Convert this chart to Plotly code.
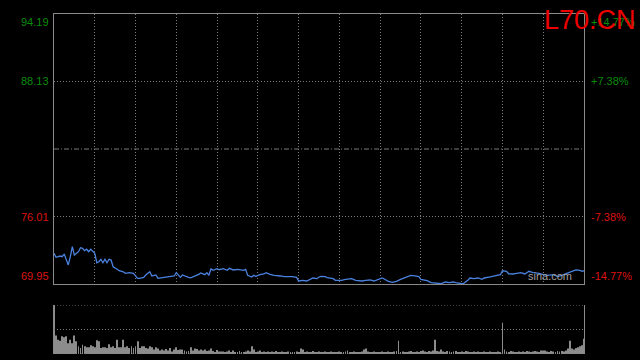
import plotly.graph_objects as go

# ---------------- data ----------------
symbol = "L70.CN"
prev_close = 82.07
left_ticks = [94.19, 88.13, 76.01, 69.95]
right_labels = ["+14.77%", "+7.38%", "-7.38%", "-14.77%"]

minute_idx = [0, 1, 3, 4, 5, 6, 7, 8, 9, 10, 11, 12, 13, 14, 15, 16, 17, 18, 20, 21,
              22, 23, 24, 25, 26, 27, 28, 29, 31, 32, 34, 35, 37, 39, 41, 42, 44, 45, 47, 48,
              50, 51, 54, 56, 59, 60, 62, 63, 64, 66, 67, 69, 71, 72, 74, 75, 76, 77, 78, 80,
              81, 83, 85, 86, 88, 90, 93, 94, 95, 97, 98, 99, 101, 103, 104, 106, 108, 111, 113, 117,
              119, 120, 122, 124, 126, 127, 129, 130, 131, 133, 134, 137, 138, 141, 143, 146, 148, 151, 153, 155,
              157, 160, 161, 162, 164, 166, 168, 170, 172, 174, 175, 177, 179, 180, 183, 185, 188, 190, 192, 194,
              196, 197, 200, 201, 203, 204, 206, 208, 210, 211, 214, 216, 218, 219, 220, 222, 223, 225, 227, 229,
              231, 233, 235, 238, 240, 242, 245, 247, 249, 251, 253, 254, 256, 258, 259, 260]
price = [72.71, 72.35, 72.46, 72.40, 72.64, 72.10, 71.66, 72.40, 73.30, 72.55, 72.71, 72.85, 73.21, 73.16, 72.94, 73.07, 72.85, 73.07, 72.71, 71.86,
         71.95, 72.17, 71.86, 72.17, 71.86, 72.17, 72.10, 71.50, 71.27, 71.14, 71.05, 70.91, 70.97, 70.91, 70.46, 70.46, 70.55, 70.76, 71.05, 70.67,
         70.76, 70.46, 70.55, 70.61, 70.67, 70.97, 70.55, 70.76, 70.67, 70.55, 70.50, 70.64, 70.82, 70.94, 70.79, 70.97, 70.73, 71.32, 71.18, 71.32,
         71.23, 71.32, 71.18, 71.36, 71.21, 71.27, 71.18, 71.27, 70.73, 70.58, 70.73, 70.64, 70.79, 70.85, 70.97, 70.82, 70.73, 70.67, 70.61, 70.61,
         70.55, 70.22, 70.28, 70.22, 70.37, 70.49, 70.43, 70.58, 70.64, 70.61, 70.52, 70.43, 70.28, 70.28, 70.37, 70.43, 70.28, 70.22, 70.28, 70.31,
         70.22, 70.37, 70.49, 70.40, 70.19, 70.10, 70.19, 70.37, 70.49, 70.67, 70.73, 70.67, 70.61, 70.37, 70.25, 70.07, 69.98, 69.98, 70.13, 70.07,
         70.13, 70.07, 69.98, 70.01, 70.28, 70.49, 70.43, 70.49, 70.37, 70.49, 70.58, 70.67, 70.73, 70.79, 71.14, 71.09, 70.87, 70.85, 70.91, 70.97,
         70.85, 71.09, 70.97, 70.91, 70.79, 70.73, 70.79, 70.61, 70.73, 70.87, 70.97, 71.03, 71.21, 71.18, 71.09, 71.14]

volume = [1000, 380, 290, 270, 360, 340, 360, 220, 290, 220,
          380, 260, 160, 120, 190, 160, 140, 140, 180, 160,
          140, 280, 260, 120, 140, 140, 120, 200, 140, 160,
          120, 290, 140, 140, 290, 140, 160, 120, 160, 120,
          160, 260, 120, 160, 160, 120, 110, 160, 140, 90,
          140, 110, 70, 90, 70, 100, 70, 120, 50, 90,
          140, 80, 90, 90, 70, 50, 60, 140, 70, 110,
          100, 70, 90, 70, 90, 60, 70, 110, 60, 40,
          80, 50, 50, 50, 40, 50, 70, 40, 70, 40,
          40, 60, 40, 40, 50, 70, 50, 160, 90, 40,
          50, 70, 40, 50, 40, 50, 30, 50, 40, 60,
          30, 40, 50, 30, 40, 50, 30, 40, 30, 50,
          40, 110, 90, 40, 50, 30, 40, 60, 30, 40,
          50, 40, 30, 50, 40, 30, 50, 40, 30, 40,
          50, 30, 40, 50, 70, 40, 30, 50, 40, 30,
          40, 50, 90, 110, 50, 40, 30, 50, 40, 30,
          40, 50, 30, 40, 50, 40, 30, 50, 60, 270,
          40, 50, 30, 40, 50, 60, 40, 30, 50, 40,
          60, 70, 50, 40, 60, 50, 70, 290, 60, 50,
          90, 50, 40, 60, 50, 40, 50, 60, 40, 30,
          50, 40, 60, 50, 40, 30, 50, 40, 50, 40,
          30, 50, 40, 30, 50, 40, 30, 40, 50, 40,
          640, 90, 50, 40, 60, 50, 40, 30, 50, 40,
          50, 40, 60, 50, 40, 50, 60, 50, 40, 70,
          70, 70, 50, 40, 60, 50, 40, 60, 50, 60,
          50, 70, 110, 270, 110, 90, 120, 140, 160, 180,
          310]
volume_idx = list(range(len(volume)))

# ---------------- style ----------------
GREEN = "#0a8c0a"
RED = "#dd1111"
GRID = "#7a7a7a"
BORDER = "#8a8a8a"
DOT = "1px,2px"
FONT = "Liberation Sans, Arial, sans-serif"
n_minutes = 260
vmax = max(volume)

fig = go.Figure()
fig.add_trace(go.Scatter(x=minute_idx, y=price, mode="lines",
                         line=dict(color="#4a82e0", width=1.3),
                         xaxis="x", yaxis="y", hoverinfo="skip"))
fig.add_trace(go.Bar(x=volume_idx, y=volume, width=0.45,
                     marker=dict(color="#8c8c8c", line=dict(width=0)),
                     xaxis="x2", yaxis="y2", hoverinfo="skip"))

x_dom = [54 / 640, 584 / 640]
fig.update_layout(
    width=640, height=360,
    margin=dict(l=0, r=0, t=0, b=0),
    paper_bgcolor="black", plot_bgcolor="black",
    showlegend=False,
    xaxis=dict(domain=x_dom, range=[0, n_minutes], tick0=0, dtick=20,
               showgrid=True, gridcolor=GRID, griddash=DOT, gridwidth=1,
               showticklabels=False, ticks="", zeroline=False,
               showline=True, mirror=True, linecolor=BORDER, linewidth=1),
    yaxis=dict(domain=[1 - 284 / 360, 1 - 14 / 360], range=[left_ticks[-1], left_ticks[0]],
               tickvals=[left_ticks[1], left_ticks[2]],
               showgrid=True, gridcolor=GRID, griddash=DOT, gridwidth=1,
               showticklabels=False, ticks="", zeroline=False,
               showline=True, mirror=True, linecolor=BORDER, linewidth=1),
    xaxis2=dict(domain=x_dom, range=[0, n_minutes], anchor="y2",
                showgrid=False, showticklabels=False, ticks="", zeroline=False,
                showline=False),
    yaxis2=dict(domain=[1 - 354 / 360, 1 - 305 / 360], range=[0, vmax], anchor="x2",
                showgrid=False, showticklabels=False, ticks="", zeroline=False,
                showline=True, mirror=True, linecolor=BORDER, linewidth=1),
)

shapes = [dict(type="line", xref="x domain", yref="y", x0=0, x1=1,
               y0=prev_close, y1=prev_close,
               line=dict(color=GRID, width=1, dash="5px,2px,1px,2px"))]
for frac in (0, 0.5, 1):
    shapes.append(dict(type="line", xref="x2 domain", yref="y2", x0=0, x1=1,
                       y0=vmax * frac, y1=vmax * frac,
                       line=dict(color=GRID, width=1, dash=DOT)))
fig.update_layout(shapes=shapes)

annotations = []
anchors = ["top", "middle", "middle", "bottom"]
for k, (val, pct) in enumerate(zip(left_ticks, right_labels)):
    col = GREEN if val > prev_close else RED
    annotations.append(dict(x=51 / 640, xref="paper", y=val, yref="y", text=f"{val:.2f}",
                            showarrow=False, xanchor="right", yanchor=anchors[k],
                            font=dict(family=FONT, size=11, color=col)))
    annotations.append(dict(x=589 / 640, xref="paper", y=val, yref="y", text=pct,
                            showarrow=False, xanchor="left", yanchor=anchors[k],
                            font=dict(family=FONT, size=11, color=col)))
annotations.append(dict(x=638 / 640, xref="paper", y=1 - 3 / 360, yref="paper", text=symbol,
                        showarrow=False, xanchor="right", yanchor="top",
                        font=dict(family=FONT, size=27, color="#ee0000")))
annotations.append(dict(x=574 / 640, xref="paper", y=left_ticks[-1], yref="y", text="sina.com",
                        showarrow=False, xanchor="right", yanchor="bottom",
                        font=dict(family=FONT, size=11, color="#a0a0a0")))
fig.update_layout(annotations=annotations)

fig.write_html("out.html")
